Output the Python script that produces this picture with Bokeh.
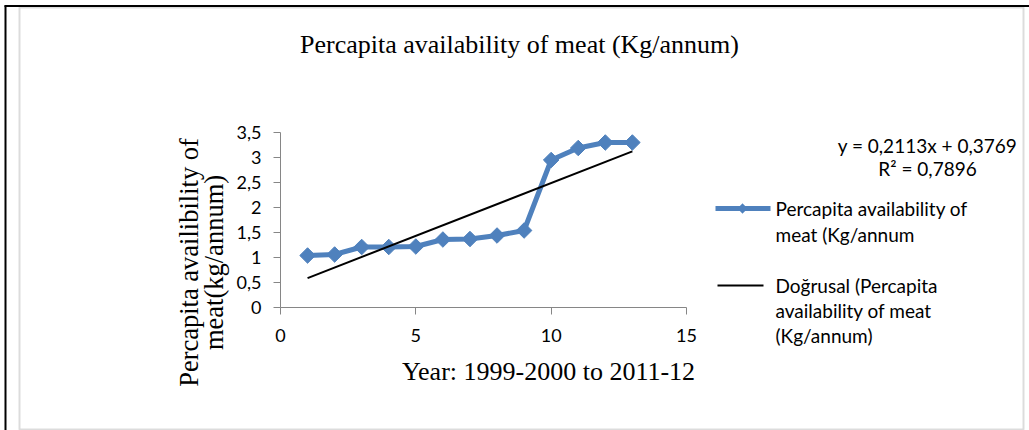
import numpy as np
from bokeh.plotting import figure
from bokeh.models import (Label, Arrow, BoxAnnotation, PolyAnnotation, FixedTicker,
                          Range1d, LinearAxis)
from bokeh.embed import file_html
from bokeh.resources import INLINE

# ---------------- data ----------------
TITLE = "Percapita availability of meat (Kg/annum)"
X_LABEL = "Year: 1999-2000 to 2011-12"
Y_LABEL_LINES = ["Percapita availibility of", "meat(kg/annum)"]
SERIES_NAME_LINES = ["Percapita availability of", "meat (Kg/annum"]
TREND_NAME_LINES = ["Doğrusal (Percapita", "availability of meat", "(Kg/annum)"]

years = [1, 2, 3, 4, 5, 6, 7, 8, 9, 10, 11, 12, 13]
meat = [1.04, 1.06, 1.21, 1.21, 1.22, 1.36, 1.37, 1.44, 1.54, 2.95, 3.19, 3.30, 3.30]

TREND_SLOPE = 0.2113
TREND_INTERCEPT = 0.3769
TREND_R2 = 0.7896

x_ticks = [0, 5, 10, 15]
y_ticks = [0, 0.5, 1, 1.5, 2, 2.5, 3, 3.5]
y_tick_labels = ["0", "0,5", "1", "1,5", "2", "2,5", "3", "3,5"]

# ---------------- layout ----------------
W, H = 1029, 430
X_MIN, X_MAX = 0, 15
Y_MIN, Y_MAX = 0, 3.5
# pixel anchors of the plotting area
XPX0, XPX1 = 280, 686      # x = X_MIN, X_MAX
YPX0, YPX1 = 307, 132      # y = Y_MIN, Y_MAX
KX = (XPX1 - XPX0) / (X_MAX - X_MIN)
KY = (YPX0 - YPX1) / (Y_MAX - Y_MIN)
XS = X_MIN - XPX0 / KX
XE = X_MAX + (W - XPX1) / KX
YS = Y_MIN - (H - YPX0) / KY
YE = Y_MAX + YPX1 / KY


def dx(px):
    return XS + px / KX


def dy(py):
    return YE - py / KY


BLUE = "#4F81BD"
AXIS_GRAY = "#868686"
SANS = "Lato"
SERIF = "Liberation Serif"


def dec(v, nd):
    return f"{v:.{nd}f}".replace(".", ",")


p = figure(width=W, height=H, output_backend="svg", toolbar_location=None,
           x_range=Range1d(XS, XE), y_range=Range1d(YS, YE),
           x_axis_location=None, y_axis_location=None,
           min_border=0)
p.outline_line_color = None
p.xgrid.visible = False
p.ygrid.visible = False
p.background_fill_color = "white"
p.border_fill_color = "white"

xaxis = LinearAxis(fixed_location=Y_MIN, bounds=(X_MIN, X_MAX),
                   ticker=FixedTicker(ticks=x_ticks))
yaxis = LinearAxis(fixed_location=X_MIN, bounds=(Y_MIN, Y_MAX),
                   ticker=FixedTicker(ticks=y_ticks),
                   major_label_overrides={t: l for t, l in zip(y_ticks, y_tick_labels)})
for ax in (xaxis, yaxis):
    ax.axis_line_color = AXIS_GRAY
    ax.major_tick_line_color = AXIS_GRAY
    ax.minor_tick_line_color = None
    ax.major_tick_in = 0
    ax.major_tick_out = 7
    ax.major_label_text_font = SANS
    ax.major_label_text_font_size = "18px"
    ax.major_label_text_color = "black"
xaxis.major_label_standoff = 14
yaxis.major_label_standoff = 12
p.add_layout(xaxis, "below")
p.add_layout(yaxis, "left")

# series
p.line(years, meat, line_color=BLUE, line_width=5, line_join="round")
p.scatter(years, meat, marker="square", angle=np.pi / 4, size=11,
          fill_color=BLUE, line_color=BLUE)

# linear trend line
tx = [min(years), max(years)]
ty = [TREND_SLOPE * v + TREND_INTERCEPT for v in tx]
p.line(tx, ty, line_color="black", line_width=2)

# ---------------- borders ----------------
p.add_layout(BoxAnnotation(left=dx(19), right=dx(1023), top=dy(7), bottom=dy(429),
                           fill_alpha=0, line_color="#8c8c8c", line_width=2))
p.add_layout(Arrow(x_start=dx(5), y_start=dy(5), x_end=dx(5), y_end=dy(H), end=None,
                   line_color="black", line_width=2))
p.add_layout(Arrow(x_start=dx(4), y_start=dy(5.5), x_end=dx(W), y_end=dy(5.5), end=None,
                   line_color="black", line_width=2))


# ---------------- texts ----------------
def label(px, py, text, font, size, align="center", angle=0.0):
    p.add_layout(Label(x=dx(px), y=dy(py), text=text, text_font=font,
                       text_font_size=size, text_align=align,
                       text_baseline="middle", angle=angle, text_color="black"))


label(519, 44, TITLE, SERIF, "26px")
label(548, 371, X_LABEL, SERIF, "26px")
label(188, 262, Y_LABEL_LINES[0], SERIF, "26.5px", angle=np.pi / 2)
label(213, 262, Y_LABEL_LINES[1], SERIF, "26.5px", angle=np.pi / 2)

label(927, 145, f"y = {dec(TREND_SLOPE, 4)}x + {dec(TREND_INTERCEPT, 4)}", SANS, "19px")
label(927, 168, f"R² = {dec(TREND_R2, 4)}", SANS, "19px")

# ---------------- legend ----------------
p.add_layout(Arrow(x_start=dx(715), y_start=dy(208), x_end=dx(770), y_end=dy(208),
                   end=None, line_color=BLUE, line_width=5))
cx, cy, hh = 742, 208, 5
p.add_layout(PolyAnnotation(xs=[dx(cx), dx(cx + hh), dx(cx), dx(cx - hh)],
                            ys=[dy(cy - hh), dy(cy), dy(cy + hh), dy(cy)],
                            fill_color=BLUE, fill_alpha=1, line_color=BLUE))
for i, txt in enumerate(SERIES_NAME_LINES):
    label(775, 208 + 26 * i, txt, SANS, "19px", align="left")

p.add_layout(Arrow(x_start=dx(717), y_start=dy(285), x_end=dx(763), y_end=dy(285),
                   end=None, line_color="black", line_width=2))
for i, txt in enumerate(TREND_NAME_LINES):
    label(775, 285 + 25 * i, txt, SANS, "19px", align="left")

open("out.html", "w").write(file_html(p, INLINE))
